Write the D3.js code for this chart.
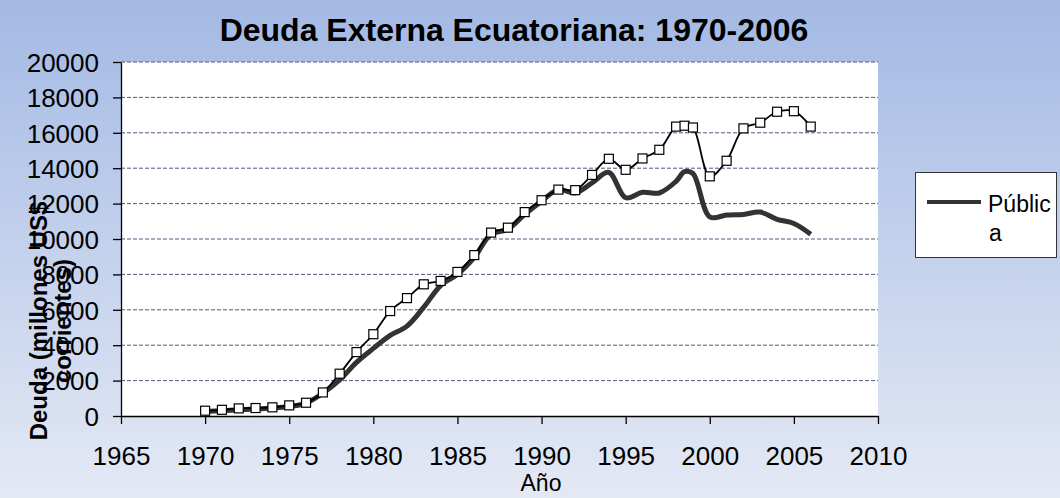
<!DOCTYPE html>
<html>
<head>
<meta charset="utf-8">
<script src="https://d3js.org/d3.v7.min.js"></script>
<style>
  body { margin: 0; }
  text { font-family: "Liberation Sans", Arial, sans-serif; fill: #000; }
</style>
</head>
<body>
<div class="chart"></div>
<script>
// Data (millones US$)
var years = [1970, 1971, 1972, 1973, 1974, 1975, 1976, 1977, 1978, 1979,
  1980, 1981, 1982, 1983, 1984, 1985, 1986, 1987, 1988, 1989,
  1990, 1991, 1992, 1993, 1994, 1995, 1996, 1997, 1998, 1998.5, 1999,
  2000, 2001, 2002, 2003, 2004, 2005, 2006];
var total = [300, 350, 430, 450, 490, 600, 750, 1330, 2390, 3610,
  4620, 5930, 6660, 7440, 7630, 8140, 9090, 10360, 10640, 11520,
  12190, 12790, 12760, 13620, 14530, 13910, 14550, 15040, 16350, 16400, 16300,
  13540, 14420, 16250, 16570, 17190, 17220, 16350];
var publica = [260, 300, 350, 400, 450, 540, 730, 1290, 2040, 3030,
  3820, 4560, 5080, 6150, 7370, 8000, 8960, 10270, 10550, 11390,
  12140, 12790, 12600, 13170, 13760, 12330, 12640, 12600, 13260, 13800, 13700,
  11250, 11350, 11390, 11520, 11110, 10880, 10270];
var xTicks = [1965, 1970, 1975, 1980, 1985, 1990, 1995, 2000, 2005, 2010];
var yTicks = [0, 2000, 4000, 6000, 8000, 10000, 12000, 14000, 16000, 18000, 20000];

var svgWidth = 1060;
var svgHeight = 498;

var margin = { top: 62, right: 182, bottom: 82, left: 121 };
var width = svgWidth - margin.left - margin.right;
var height = svgHeight - margin.top - margin.bottom;

var svg = d3.select(".chart")
  .append("svg")
  .attr("width", svgWidth)
  .attr("height", svgHeight);

// background gradient
var grad = svg.append("defs").append("linearGradient")
  .attr("id", "bg")
  .attr("x1", 0).attr("y1", 0).attr("x2", 0).attr("y2", 1);
grad.append("stop").attr("offset", "0%").attr("stop-color", "#a3b9e4");
grad.append("stop").attr("offset", "100%").attr("stop-color", "#e4e9f4");

svg.append("rect")
  .attr("width", svgWidth)
  .attr("height", svgHeight)
  .attr("fill", "url(#bg)");

var chartGroup = svg.append("g")
  .attr("transform", `translate(${margin.left}, ${margin.top})`);

chartGroup.append("rect")
  .attr("width", width)
  .attr("height", height)
  .attr("fill", "#fff");

var xScale = d3.scaleLinear().domain([1965, 2010]).range([0, width]);
var yScale = d3.scaleLinear().domain([0, 20000]).range([height, 0]);

// gridlines
chartGroup.selectAll(".grid")
  .data(yTicks.filter(d => d > 0))
  .enter()
  .append("line")
  .attr("x1", 0)
  .attr("x2", width)
  .attr("y1", d => yScale(d))
  .attr("y2", d => yScale(d))
  .attr("stroke", "#55557f")
  .attr("stroke-width", 1)
  .attr("stroke-dasharray", "4,2");

// axes
var bottomAxis = d3.axisBottom(xScale).tickValues(xTicks).tickFormat(d3.format("d"))
  .tickSizeInner(8).tickSizeOuter(0).tickPadding(23);
var leftAxis = d3.axisLeft(yScale).tickValues(yTicks).tickFormat(d3.format("d"))
  .tickSizeInner(8).tickSizeOuter(0).tickPadding(14);

var xAxisG = chartGroup.append("g")
  .attr("transform", `translate(0, ${height})`)
  .call(bottomAxis);
var yAxisG = chartGroup.append("g").call(leftAxis);

[xAxisG, yAxisG].forEach(function (g) {
  g.selectAll("path, line").attr("stroke", "#000").attr("stroke-width", 1.3);
  g.selectAll("text")
    .style("font-family", "'Liberation Sans', Arial, sans-serif")
    .style("font-size", "26px")
    .attr("fill", "#111");
});
yAxisG.selectAll("text").attr("dy", "0.36em");

// lines
var pubLine = d3.line()
  .x((d, i) => xScale(years[i]))
  .y(d => yScale(d))
  .curve(d3.curveCatmullRom.alpha(0.5));

chartGroup.append("path")
  .datum(publica)
  .attr("fill", "none")
  .attr("stroke", "#333")
  .attr("stroke-width", 5)
  .attr("stroke-linejoin", "round")
  .attr("d", pubLine);

chartGroup.append("path")
  .datum(total)
  .attr("fill", "none")
  .attr("stroke", "#000")
  .attr("stroke-width", 1.8)
  .attr("d", pubLine);

chartGroup.selectAll(".sq")
  .data(total)
  .enter()
  .append("rect")
  .attr("x", (d, i) => xScale(years[i]) - 4.5)
  .attr("y", d => yScale(d) - 4.5)
  .attr("width", 9)
  .attr("height", 9)
  .attr("fill", "#fff")
  .attr("stroke", "#000")
  .attr("stroke-width", 1.2);

// title
svg.append("text")
  .attr("x", 514)
  .attr("y", 41)
  .attr("text-anchor", "middle")
  .style("font-size", "32px")
  .style("font-weight", "bold")
  .text("Deuda Externa Ecuatoriana: 1970-2006");

// x axis label
svg.append("text")
  .attr("x", 541)
  .attr("y", 491)
  .attr("text-anchor", "middle")
  .style("font-size", "23px")
  .text("Año");

// y axis label (two lines, on top of tick labels)
var yTitle = svg.append("text")
  .attr("transform", "translate(0, 321) rotate(-90)")
  .attr("text-anchor", "middle")
  .style("font-size", "24px")
  .style("font-weight", "bold");
yTitle.append("tspan").attr("x", 0).attr("y", 47).text("Deuda (millones US$");
yTitle.append("tspan").attr("x", 0).attr("y", 71).text("corrientes)");

// legend
var legend = svg.append("g");
legend.append("rect")
  .attr("x", 915.5)
  .attr("y", 172.5)
  .attr("width", 141)
  .attr("height", 85)
  .attr("fill", "#fff")
  .attr("stroke", "#333")
  .attr("stroke-width", 1);
legend.append("line")
  .attr("x1", 927).attr("x2", 981)
  .attr("y1", 202).attr("y2", 202)
  .attr("stroke", "#333")
  .attr("stroke-width", 4);
legend.append("text")
  .attr("x", 988).attr("y", 212)
  .style("font-size", "23px")
  .text("Públic");
legend.append("text")
  .attr("x", 989).attr("y", 241)
  .style("font-size", "23px")
  .text("a");
</script>
</body>
</html>
